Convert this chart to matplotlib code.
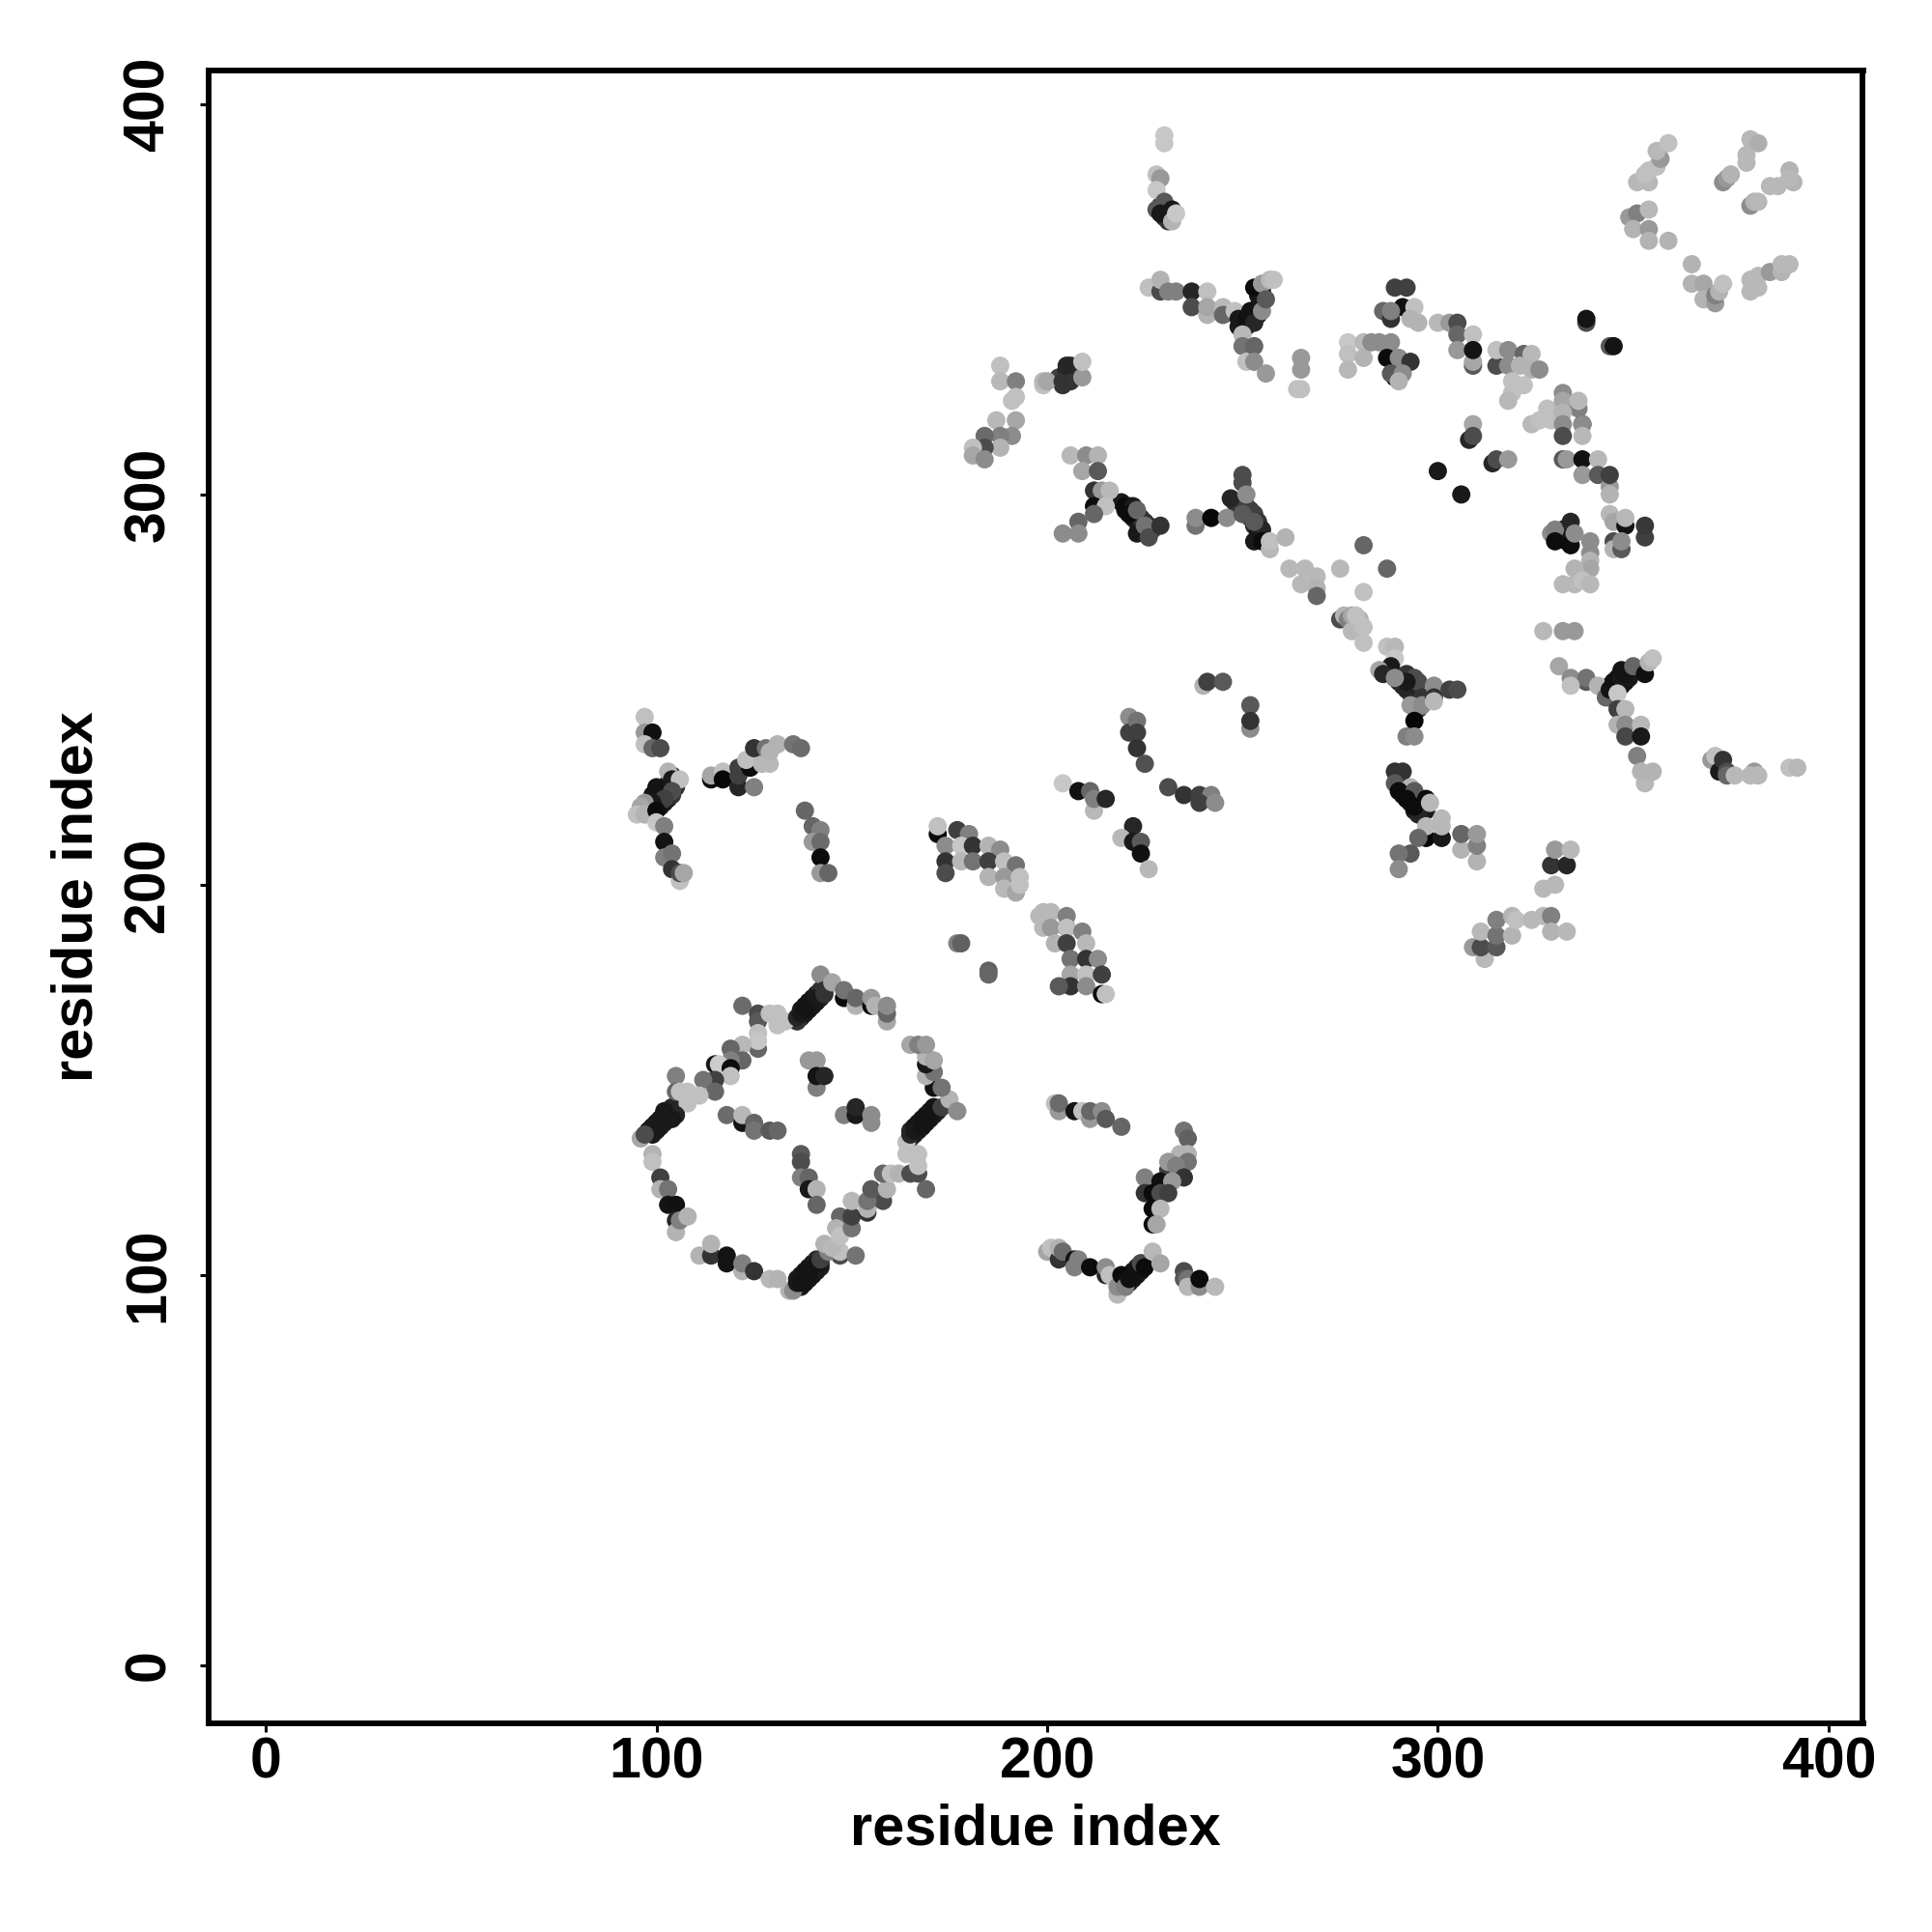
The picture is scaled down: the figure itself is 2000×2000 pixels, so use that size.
import matplotlib
matplotlib.use("Agg")
import matplotlib.pyplot as plt

# (residue i, residue j, gray level)
dark_ring = [(137,166,.12),(138,167,.1),(139,168,.1),(140,169,.1),(141,170,.1),(142,171,.12),(136,165,.2),
             (138,169,.08),(139,170,.08),(140,171,.1),(141,172,.12),(137,168,.1),(142,173,.2),
             (99,136,.1),(100,137,.1),(101,138,.1),(102,139,.1),(103,140,.1),(104,141,.12),(105,142,.2),
             (98,137,.1),(99,138,.1),(100,139,.1),(101,140,.1),(102,141,.1),(103,142,.1),(104,143,.15),
             (136,97,.12),(137,97,.1),(137,98,.1),(138,98,.08),(138,99,.08),(139,99,.08),(139,100,.08),(140,100,.08),(140,101,.08),
             (141,101,.1),(141,102,.1),(142,102,.12),(142,103,.1),(136,99,.1),(137,100,.1),(138,101,.08),(139,102,.08),(140,103,.1),(141,104,.15),
             (165,135,.2),(166,136,.12),(167,137,.1),(168,138,.08),(169,139,.08),(170,140,.08),(171,141,.1),(172,142,.12),
             (165,137,.15),(166,138,.1),(167,139,.08),(168,140,.08),(169,141,.08),(170,142,.1),(171,143,.12)]
dark_other = [(219,98,.12),(220,99,.08),(221,100,.08),(222,101,.08),(223,102,.1),(224,103,.12),(220,97,.15),(221,98,.1),(222,99,.1),(223,100,.08),(224,101,.1),
              (99,220,.08),(100,221,.08),(101,223,.08),(102,224,.1),(103,226,.1),(104,228,.12),(101,220,.1),(102,221,.1),(103,222,.12),(104,223,.2),(105,225,.2),
              (249,343,.12),(250,344,.1),(251,345,.08),(252,346,.08),(253,347,.08),(254,348,.1),(251,343,.12),(252,344,.1),(253,345,.08),(254,346,.1),(255,349,.15),(254,351,.1),(255,352,.12),
              (344,248,.1),(345,249,.08),(346,250,.08),(347,251,.08),(348,252,.08),(349,253,.1),(344,251,.1),(345,252,.08),(346,253,.08),(347,254,.1),
              (290,226,.1),(291,225,.08),(292,224,.07),(293,223,.07),(294,222,.07),(295,221,.07),(296,220,.07),(297,219,.1),(291,223,.07),(292,222,.07),(293,221,.07),(294,219,.1),(295,218,.15),
              (287,255,.12),(288,254,.12),(289,253,.12),(290,252,.15),(291,251,.15),(292,250,.15),(293,249,.15),(294,248,.15),(295,247,.15),(296,248,.2),(295,245,.25),
              (219,298,.1),(220,296,.08),(221,295,.08),(222,294,.1),(223,293,.1),(224,292,.12),(225,291,.12),(226,290,.15),(221,297,.1),(222,296,.1),(223,295,.15),(224,294,.2),(225,293,.2),(226,292,.2),(227,291,.25),
              (248,298,.2),(249,297,.2),(250,296,.2),(251,295,.2),(252,294,.2),(253,292,.15),(254,290,.1),(255,289,.1),(250,298,.25),(251,297,.25),(252,296,.25),(253,295,.25),(254,293,.2),(255,291,.15),
              (203,330,.25),(204,328,.2),(205,332,.15),(206,333,.2),(206,329,.2),(207,331,.2),
              (229,374,.25),(230,373,.2),(231,372,.15),(230,371,.2),(231,370,.2),
              (331,289,.08),(332,289,.08),(333,288,.08),(332,291,.1)]
ring_top = [(142,177,.55),(122,169,.42),(126,167,.3),(126,165,.35),(129,167,.75),(131,167,.75),(131,164,.75),(133,165,.75),
            (136,166,.15),(137,167,.1),(138,168,.08),(139,170,.08),(141,171,.1),(143,172,.2),(143,173,.2),(145,175,.65),
            (148,171,.05),(148,173,.45),(151,169,.7),(151,171,.4),(155,169,.05),(155,171,.6),(156,169,.7),
            (159,165,.65),(159,167,.4),(159,169,.55)]
ring_left = [(126,162,.75),(126,158,.4),(126,160,.78),(122,159,.72),(119,158,.4),(122,155,.4),(119,155,.5),(115,154,.1),(116,154,.8),
             (119,153,.05),(119,151,.75),(115,150,.25),(112,150,.45),(115,147,.4),(105,151,.5),(105,147,.4),(111,146,.75),
             (108,147,.75),(106,147,.75),(108,144,.75),(105,141,.15),(104,140,.1),(102,142,.1),(101,140,.1),(100,139,.1),
             (99,138,.1),(98,137,.1),(96,135,.65),(97,136,.3),(99,131,.7),(99,129,.75),(101,125,.25),(101,122,.7),(103,122,.45),
             (103,118,.08),(105,118,.07),(105,114,.15),(105,111,.7),(106,114,.5),(108,115,.7)]
ring_bottom = [(111,105,.7),(114,105,.2),(114,108,.7),(118,105,.08),(118,103,.08),(122,101,.7),(122,103,.5),(125,101,.2),
               (129,99,.72),(131,99,.7),(134,96,.7),(135,96,.55),(136,98,.1),(137,98,.08),(138,100,.08),(139,101,.08),
               (141,103,.08),(142,104,.25),(147,105,.3),(144,106,.5),(143,108,.7),(147,106,.75),(145,107,.72),(151,105,.45)]
ring_right = [(147,115,.4),(146,112,.7),(147,110,.75),(150,112,.45),(150,115,.25),(150,119,.72),(154,116,.2),(154,117,.7),
              (158,119,.3),(154,119,.45),(155,122,.35),(159,122,.7),(158,126,.4),(160,126,.75),(162,126,.7),(165,126,.3),
              (167,126,.3),(169,122,.4),(167,128,.75),(164,131,.75),(167,131,.75),(164,134,.75),(165,136,.15),(166,137,.1),
              (168,138,.08),(169,140,.08),(170,141,.08),(171,143,.08),(173,143,.25),(175,145,.7),(177,142,.55),(171,148,.07),
              (173,148,.45),(169,151,.7),(171,152,.45),(169,154,.1),(169,156,.7),(171,155,.65),(165,159,.65),(167,159,.5),(169,159,.6)]
ring_inside = [(139,155,.6),(141,155,.6),(141,148,.5),(141,151,.08),(143,151,.15),(148,141,.5),(151,141,.1),(151,143,.15),
               (155,141,.55),(155,139,.55),(118,141,.42),(122,139,.08),(122,141,.72),(125,139,.4),(125,137,.45),(129,137,.35),(131,137,.4),
               (137,131,.35),(137,129,.3),(137,125,.5),(139,125,.4),(139,122,.1),(141,122,.7),(141,118,.4)]
left_pair = [(97,243,.75),(97,239,.6),(99,239,.07),(97,236,.75),(99,235,.4),(101,235,.3),(103,229,.7),(104,227,.1),(106,227,.75),
             (100,225,.08),(99,223,.08),(104,224,.3),(102,222,.25),(99,221,.1),(97,221,.6),(96,220,.65),(95,218,.75),(97,218,.7),(100,219,.05),
             (100,216,.78),(102,215,.5),(102,211,.08),(102,207,.5),(104,208,.45),(104,204,.2),(106,201,.75),(106,203,.3),(107,203,.65)]
upper_arm = [(114,227,.05),(114,228,.65),(117,229,.75),(117,227,.03),(121,225,.15),(125,225,.5),(121,228,.25),(121,230,.25),(124,230,.05),
             (123,232,.75),(127,231,.72),(125,235,.2),(129,231,.72),(128,235,.45),(129,234,.7),(131,236,.7),(135,236,.45),(137,235,.42)]
short_bar = [(138,219,.4),(140,215,.4),(142,214,.5),(140,211,.6),(142,211,.42),(142,207,.05),(142,203,.6),(144,203,.4)]
band_a = [(172,213,.05),(172,215,.75),(177,214,.25),(180,213,.5),(174,210,.55),(178,210,.78),(181,210,.2),(174,206,.2),(178,206,.72),
          (181,206,.45),(174,203,.3),(185,210,.7),(188,209,.55),(185,206,.25),(189,206,.75),(192,205,.45),(185,202,.7),(189,202,.6),
          (193,202,.75),(189,199,.72),(192,198,.65),(193,200,.75),(177,185,.5),(178,185,.38),(185,178,.38),(185,177,.4)]
band_b = [(198,192,.72),(199,193,.72),(201,193,.72),(205,192,.5),(199,189,.72),(201,189,.6),(205,189,.3),(205,189,.75),(209,188,.5),
          (202,185,.7),(205,185,.25),(210,185,.72),(206,181,.45),(210,181,.2),(213,181,.55),(206,177,.65),(210,177,.75),(206,174,.2),
          (203,174,.35),(210,174,.55),(214,172,.05),(215,172,.75),(214,177,.25)]
mid_cross = [(204,226,.78),(208,224,.07),(211,224,.4),(212,219,.72),(212,222,.5),(215,222,.15),(221,243,.55),(221,239,.25),(223,242,.45),
             (223,239,.25),(223,235,.2),(225,231,.32),(231,225,.3),(235,223,.2),(239,223,.25),(242,223,.5),(239,221,.25),(243,221,.55),
             (222,215,.15),(219,212,.72),(222,211,.1),(224,211,.35),(224,208,.07),(226,204,.72),(240,251,.7),(241,252,.25),(245,252,.35),
             (252,246,.35),(252,240,.55),(252,242,.2)]
y_branch = [(291,229,.2),(289,229,.2),(289,226,.35),(293,225,.7),(290,224,.05),(294,224,.35),(292,222,.05),(294,220,.05),(297,222,.05),
            (298,221,.72),(297,212,.03),(301,212,.1),(297,215,.72),(301,217,.72),(301,215,.72),(295,212,.4),(293,208,.35),(290,208,.45),(290,204,.55),
            (306,209,.7),(306,213,.4),(310,206,.7),(310,210,.5),(310,213,.6)]
lower_right = [(329,205,.2),(333,205,.15),(327,199,.72),(330,200,.72),(330,209,.6),(334,209,.72),(309,184,.6),(312,181,.72),(311,184,.3),
               (311,188,.72),(315,184,.35),(315,187,.45),(315,191,.5),(319,187,.7),(319,192,.7),(320,191,.75),(324,191,.72),(327,192,.72),
               (329,192,.5),(329,188,.7),(333,188,.72)]
right_y = [(327,265,.72),(332,265,.6),(335,265,.6),(331,256,.65),(334,253,.55),(338,252,.35),(338,253,.45),(334,251,.75),(341,251,.7),(343,248,.4),
           (344,250,.08),(345,252,.07),(347,253,.1),(348,254,.08),(347,255,.08),(350,256,.4),(353,254,.07),(354,257,.7),(355,258,.75),
           (346,249,.78),(346,245,.25),(348,245,.72),(346,241,.7),(348,241,.55),(348,238,.28),(352,241,.72),(352,238,.1),(351,233,.5),
           (353,226,.72),(352,229,.7),(355,229,.7),(370,232,.6),(371,233,.75),(372,229,.1),(373,232,.2),(374,229,.3),(374,228,.4),
           (376,228,.72),(381,229,.6),(380,228,.72),(382,228,.72),(390,230,.75),(392,230,.72)]
diag_lower = [(281,275,.75),(275,281,.72),(262,281,.72),(266,281,.72),(265,277,.72),(269,279,.72),(269,276,.7),(269,274,.4),(281,287,.4),(287,281,.4),
              (275,268,.3),(276,269,.7),(277,268,.5),(278,269,.65),(280,268,.7),(278,265,.72),(279,269,.75),(281,266,.75),(281,262,.75),
              (287,261,.75),(289,261,.72),(289,258,.78),(288,256,.1),(285,255,.65),(286,254,.15),(292,254,.2),(294,253,.3),(295,252,.3),
              (292,252,.1),(289,253,.55),(296,248,.2),(293,246,.6),(296,246,.55),(299,251,.55),(299,248,.2),(299,247,.72),(303,250,.25),(305,250,.3),
              (294,242,.03),(292,238,.5),(294,238,.55)]
top_spike = [(230,392,.78),(230,390,.78),(228,382,.75),(229,381,.6),(228,378,.78),(230,375,.35),(228,373,.35),(229,372,.1),(232,373,.1),(232,370,.7),(233,372,.78)]
top_arm = [(226,353,.75),(229,352,.3),(229,355,.7),(231,352,.5),(233,352,.5),(237,352,.15),(241,352,.75),(237,348,.3),(241,346,.7),(241,348,.65),
           (245,348,.72),(245,346,.4),(248,347,.75),(249,345,.1),(251,345,.07),(252,347,.08),(253,344,.15),(255,347,.55),(253,353,.05),
           (255,354,.6),(256,350,.35),(257,355,.72),(258,355,.75),(250,341,.72),(250,338,.45),(251,334,.75),(253,338,.4),(253,334,.55),(256,331,.6),
           (265,335,.6),(265,332,.6),(264,327,.75),(265,327,.75)]
upper_mid = [(277,339,.78),(281,339,.72),(277,336,.75),(281,335,.7),(277,332,.72),(283,339,.55),(285,339,.55),(288,339,.55),
             (289,353,.25),(292,353,.25),(291,348,.07),(294,348,.75),(286,347,.4),(288,345,.2),(288,347,.5),(293,345,.7),(295,344,.7),
             (287,335,.05),(290,335,.55),(293,334,.2),(289,330,.05),(288,331,.35),(291,331,.55),(290,329,.7),
             (300,344,.72),(303,344,.6),(305,344,.3),(305,341,.4),(309,341,.75),(305,337,.6),(309,333,.35),(309,334,.65),(309,337,.08),
             (315,333,.3),(315,337,.75),(318,337,.55),(318,333,.55),(322,336,.4),(324,336,.72),(321,333,.7),(324,332,.7),(326,332,.55),
             (319,329,.75),(322,328,.75),(319,326,.75),(318,324,.72)]
right_arc = [(324,318,.72),(326,319,.75),(328,322,.75),(329,319,.75),(332,326,.55),(332,324,.65),(336,322,.5),(336,324,.72),(332,321,.7),
             (332,318,.55),(337,318,.2),(337,318,.55),(332,315,.3),(337,315,.72),(332,309,.35),(333,309,.6),(337,309,.07),(341,309,.72),
             (337,305,.6),(341,305,.35),(344,302,.6),(344,305,.25),(344,300,.7),(344,295,.72),(345,293,.65),(348,292,.08),(348,294,.72),
             (353,289,.25),(353,292,.22),(345,288,.3),(345,286,.7),(347,286,.35),(347,288,.55),(329,290,.55),(330,291,.5),(330,288,.05),
             (334,293,.15),(334,287,.05),(335,290,.55),(339,285,.55),(339,288,.55),(339,283,.7),(339,281,.65),(335,281,.7),(332,277,.72),(335,277,.72),(337,278,.75),(339,277,.72)]
scattered = [(309,318,.65),(308,314,.15),(309,315,.3),(314,308,.15),(315,309,.3),(318,309,.6),(300,306,.1),(306,300,.1),
             (338,344,.3),(338,345,.08),(344,338,.35),(345,338,.08)]
top_right = [(351,380,.72),(354,380,.72),(353,382,.75),(354,383,.75),(356,384,.75),(357,386,.6),(356,388,.72),(359,390,.75),
             (349,371,.6),(351,372,.5),(350,368,.7),(354,368,.6),(354,365,.7),(354,373,.72),(359,365,.7),(365,359,.7),(365,354,.7),(368,354,.65),
             (368,350,.7),(371,349,.6),(371,351,.5),(372,352,.7),(373,354,.75),(380,352,.72),(380,355,.72),(382,353,.72),(382,356,.72),
             (385,357,.6),(388,357,.7),(388,359,.72),(390,359,.72),(380,391,.72),(382,390,.68),(379,387,.72),(379,385,.72),(373,380,.55),
             (374,381,.6),(375,382,.7),(380,374,.55),(381,375,.7),(382,375,.72),(385,379,.72),(387,379,.72),(390,383,.7),(391,380,.7),(390,381,.72)]
upper_left = [(188,333,.75),(188,329,.72),(192,329,.5),(192,325,.75),(191,324,.75),(187,319,.72),(192,319,.65),(191,315,.55),(188,315,.5),
              (188,312,.7),(184,315,.42),(184,312,.3),(181,312,.75),(181,310,.65),(184,309,.55),(199,328,.75),(199,329,.72),(200,329,.65),
              (204,329,.3),(204,329,.2),(205,333,.15),(209,330,.6),(209,334,.75)]
mid_left = [(206,310,.72),(210,310,.55),(213,310,.7),(209,306,.65),(213,306,.35),(212,301,.2),(214,301,.6),(216,301,.72),(212,297,.05),(215,297,.75),
            (212,295,.4),(208,293,.4),(208,290,.55),(204,290,.55),(220,297,.05),(222,297,.1),(221,295,.05),(223,296,.4),(223,290,.1),(225,292,.45),
            (226,289,.3),(229,292,.2)]
mid_right = [(238,292,.45),(238,294,.55),(242,294,.03),(246,294,.55),(247,299,.15),(250,305,.3),(250,303,.3),(251,300,.55),(250,295,.35),
             (253,288,.1),(255,288,.05),(253,293,.35),(257,286,.72),(257,288,.75),(261,289,.7)]
bottom_a = [(202,144,.75),(203,142,.6),(203,144,.42),(207,142,.08),(209,142,.75),(211,140,.6),(211,142,.4),(214,142,.55),(215,140,.35),(219,138,.4)]
bottom_b = [(235,137,.45),(236,135,.38),(234,131,.7),(236,131,.7),(236,129,.45),(231,127,.25),(231,129,.6),(233,128,.5),(235,125,.2),(225,125,.5),
            (229,124,.07),(232,124,.6),(225,121,.2),(227,121,.05),(229,121,.3),(231,121,.25),(227,117,.05),(229,117,.72),(227,113,.05),(228,113,.65)]
bottom_c = [(200,106,.65),(201,107,.75),(203,104,.2),(203,107,.7),(204,106,.42),(207,104,.08),(207,102,.5),(208,104,.5),(211,102,.05),(215,100,.15),
            (215,102,.55),(216,100,.75),(218,95,.72),(218,97,.55),(219,100,.05),(220,97,.5),(221,99,.07),(222,100,.07),(223,101,.07),(224,103,.3),
            (225,102,.05),(227,106,.72),(229,103,.65),(235,101,.3),(235,99,.35),(236,99,.45),(236,97,.72),(239,97,.55),(239,99,.05),(243,97,.72)]

clusters = [dark_ring, dark_other, ring_top, ring_left, ring_bottom, ring_right, ring_inside, left_pair, upper_arm, short_bar, band_a, band_b,
            mid_cross, y_branch, lower_right, right_y, diag_lower, top_spike, top_arm, upper_mid, right_arc, scattered,
            top_right, upper_left, mid_left, mid_right, bottom_a, bottom_b, bottom_c]
tick_vals = [0, 100, 200, 300, 400]

plt.rcParams['font.family'] = ['Liberation Sans', 'DejaVu Sans']
plt.rcParams['font.weight'] = 'bold'

fig = plt.figure(figsize=(20, 20), dpi=100)
ax = fig.add_axes([216/2000, 1 - 1784/2000, (1928.5-216)/2000, (1784-72.7)/2000])

for pts in clusters:
    xs = [p[0] for p in pts]
    ys = [p[1] for p in pts]
    gs = [p[2] for p in pts]
    ax.scatter(xs, ys, c=gs, cmap='gray', vmin=0, vmax=1, s=185, linewidths=0, clip_on=False)

ax.set_xlim(-14.6, 408.8)
ax.set_ylim(-14.85, 408.7)
ax.set_xticks(tick_vals)
ax.set_yticks(tick_vals)
ax.tick_params(axis='both', length=6.5, width=2.2, labelsize=42.5)
ax.tick_params(axis='x', pad=3)
ax.tick_params(axis='y', pad=18)
for lab in ax.get_yticklabels():
    lab.set_rotation(90)
    lab.set_va('center')

for side in ax.spines.values():
    side.set_linewidth(4.2)

ax.set_xlabel('residue index', fontsize=42.8, fontweight='bold', va='center')
ax.set_ylabel('residue index', fontsize=42.8, fontweight='bold', va='center')
ax.xaxis.set_label_coords(0.5, -0.0645)
ax.yaxis.set_label_coords(-0.0795, 0.5)

fig.savefig('out.png', dpi=100)
